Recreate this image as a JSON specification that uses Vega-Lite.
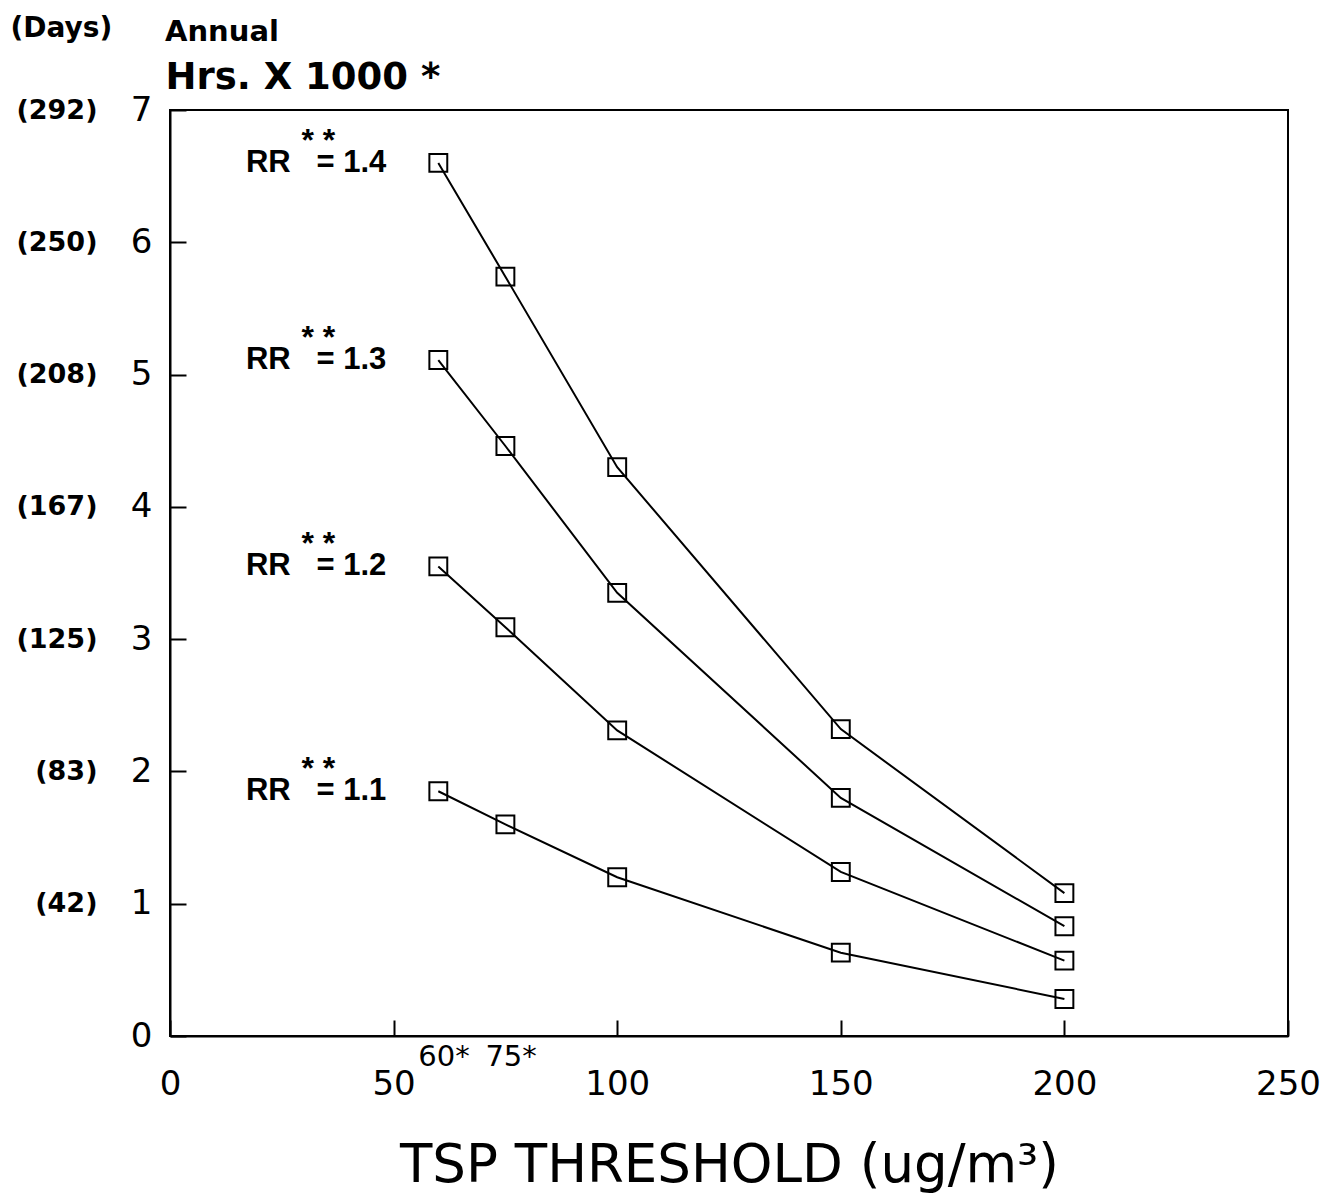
{
  "$schema": "https://vega.github.io/schema/vega-lite/v6.json",
  "width": 1118,
  "height": 926,
  "autosize": {"type": "none"},
  "padding": {"left": 170, "top": 110, "right": 43, "bottom": 161},
  "background": "white",
  "config": {
    "view": {"stroke": "black", "strokeWidth": 2},
    "font": "DejaVu Sans",
    "axis": {"grid": false, "domainColor": "black", "domainWidth": 2, "tickColor": "black", "tickWidth": 2, "labelColor": "black", "titleColor": "black"}
  },
  "title": {"text": "Annual", "anchor": "start", "frame": "group", "font": "DejaVu Sans", "fontSize": 29, "fontWeight": "bold", "color": "black", "offset": -33, "dx": -5},
  "datasets": {
    "curves": [
      {"tsp": 60, "hrs": 6.60, "rr": "1.4"},
      {"tsp": 75, "hrs": 5.74, "rr": "1.4"},
      {"tsp": 100, "hrs": 4.30, "rr": "1.4"},
      {"tsp": 150, "hrs": 2.32, "rr": "1.4"},
      {"tsp": 200, "hrs": 1.08, "rr": "1.4"},
      {"tsp": 60, "hrs": 5.11, "rr": "1.3"},
      {"tsp": 75, "hrs": 4.46, "rr": "1.3"},
      {"tsp": 100, "hrs": 3.35, "rr": "1.3"},
      {"tsp": 150, "hrs": 1.80, "rr": "1.3"},
      {"tsp": 200, "hrs": 0.83, "rr": "1.3"},
      {"tsp": 60, "hrs": 3.55, "rr": "1.2"},
      {"tsp": 75, "hrs": 3.09, "rr": "1.2"},
      {"tsp": 100, "hrs": 2.31, "rr": "1.2"},
      {"tsp": 150, "hrs": 1.24, "rr": "1.2"},
      {"tsp": 200, "hrs": 0.57, "rr": "1.2"},
      {"tsp": 60, "hrs": 1.85, "rr": "1.1"},
      {"tsp": 75, "hrs": 1.60, "rr": "1.1"},
      {"tsp": 100, "hrs": 1.20, "rr": "1.1"},
      {"tsp": 150, "hrs": 0.63, "rr": "1.1"},
      {"tsp": 200, "hrs": 0.28, "rr": "1.1"}
    ],
    "rrlabels": [
      {"tsp": 60, "hrs": 6.60, "label": "RR\u00a0\u00a0\u00a0= 1.4"},
      {"tsp": 60, "hrs": 5.11, "label": "RR\u00a0\u00a0\u00a0= 1.3"},
      {"tsp": 60, "hrs": 3.55, "label": "RR\u00a0\u00a0\u00a0= 1.2"},
      {"tsp": 60, "hrs": 1.85, "label": "RR\u00a0\u00a0\u00a0= 1.1"}
    ],
    "xnotes": [
      {"tsp": 60, "label": "60*"},
      {"tsp": 75, "label": "75*"}
    ],
    "days": [
      {"days": 0},
      {"days": 291.6667}
    ]
  },
  "layer": [
    {
      "layer": [
        {
          "data": {"name": "curves"},
          "mark": {"type": "line", "color": "black", "strokeWidth": 2},
          "encoding": {
            "x": {
              "field": "tsp", "type": "quantitative",
              "scale": {"domain": [0, 250], "nice": false},
              "axis": {
                "values": [0, 50, 100, 150, 200, 250],
                "tickSize": -16, "labelPadding": 47, "labelFontSize": 34, "labelFont": "DejaVu Sans",
                "labelFlush": false, "labelOverlap": false, "labelBound": false,
                "title": "TSP THRESHOLD (ug/m³)", "titleFont": "DejaVu Sans", "titleFontSize": 53, "titleFontWeight": "normal", "titlePadding": 38
              }
            },
            "y": {
              "field": "hrs", "type": "quantitative",
              "scale": {"domain": [0, 7], "nice": false},
              "axis": {
                "values": [0, 1, 2, 3, 4, 5, 6, 7], "format": "d",
                "tickSize": -16, "labelPadding": 34, "labelFontSize": 34, "labelFont": "DejaVu Sans",
                "labelFlush": false, "labelOverlap": false, "labelBound": false,
                "title": "Hrs. X 1000\u00a0*", "titleFont": "DejaVu Sans", "titleFontSize": 37, "titleFontWeight": "bold",
                "titleAngle": 0, "titleAlign": "left", "titleBaseline": "middle", "titleX": -5, "titleY": -33
              }
            },
            "detail": {"field": "rr", "type": "nominal"}
          }
        },
        {
          "data": {"name": "curves"},
          "mark": {"type": "point", "shape": "square", "filled": false, "color": "black", "size": 320, "strokeWidth": 2, "opacity": 1},
          "encoding": {
            "x": {"field": "tsp", "type": "quantitative"},
            "y": {"field": "hrs", "type": "quantitative"},
            "detail": {"field": "rr", "type": "nominal"}
          }
        },
        {
          "data": {"name": "rrlabels"},
          "mark": {"type": "text", "align": "right", "baseline": "middle", "dx": -52, "font": "Liberation Sans", "fontSize": 31, "fontWeight": "bold", "color": "black"},
          "encoding": {
            "x": {"field": "tsp", "type": "quantitative"},
            "y": {"field": "hrs", "type": "quantitative"},
            "text": {"field": "label"}
          }
        },
        {
          "data": {"name": "rrlabels"},
          "mark": {"type": "text", "text": "* *", "align": "center", "baseline": "middle", "dx": -120, "dy": -22, "font": "Liberation Sans", "fontSize": 32, "fontWeight": "bold", "color": "black"},
          "encoding": {
            "x": {"field": "tsp", "type": "quantitative"},
            "y": {"field": "hrs", "type": "quantitative"}
          }
        },
        {
          "data": {"name": "xnotes"},
          "mark": {"type": "text", "align": "left", "baseline": "top", "dx": -20, "dy": 7, "font": "DejaVu Sans", "fontSize": 29, "color": "black"},
          "encoding": {
            "x": {"field": "tsp", "type": "quantitative"},
            "y": {"datum": 0, "type": "quantitative"},
            "text": {"field": "label"}
          }
        }
      ]
    },
    {
      "data": {"name": "days"},
      "mark": {"type": "point", "opacity": 0},
      "encoding": {
        "y": {
          "field": "days", "type": "quantitative",
          "scale": {"domain": [0, 291.6667], "nice": false},
          "axis": {
            "orient": "left", "offset": 70,
            "values": [41.6667, 83.3333, 125, 166.6667, 208.3333, 250, 291.6667],
            "labelExpr": "'(' + format(datum.value, '.0f') + ')'",
            "ticks": false, "domain": false, "labelPadding": 3,
            "labelFont": "DejaVu Sans", "labelFontSize": 27, "labelFontWeight": "bold",
            "labelFlush": false, "labelOverlap": false, "labelBound": false,
            "title": "(Days)", "titleFont": "DejaVu Sans", "titleFontSize": 28, "titleFontWeight": "bold",
            "titleAngle": 0, "titleAlign": "left", "titleBaseline": "middle", "titleX": -90, "titleY": -82
          }
        }
      }
    }
  ],
  "resolve": {"scale": {"y": "independent"}}
}
